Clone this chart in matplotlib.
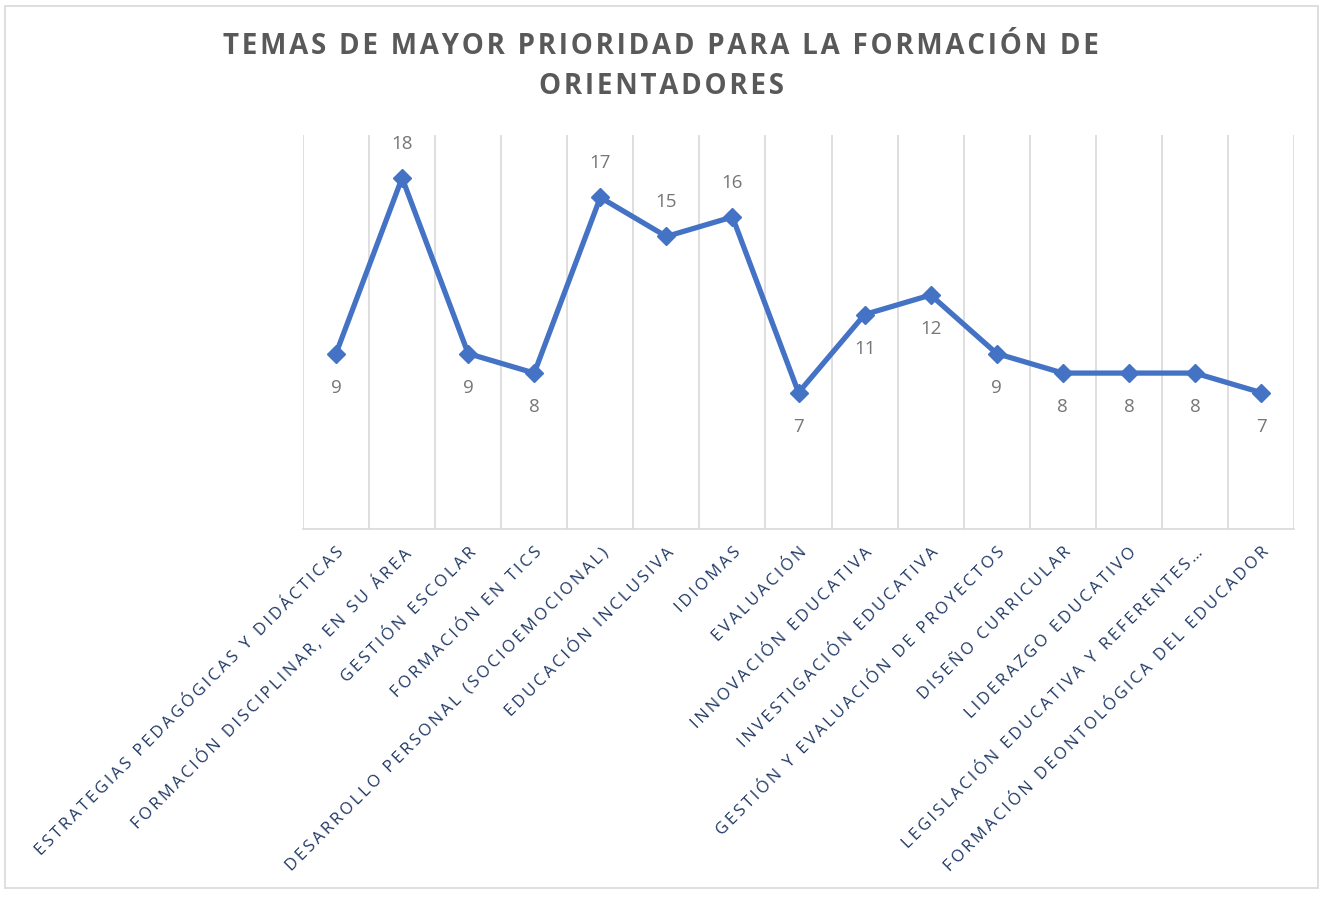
import matplotlib
matplotlib.use("Agg")
import matplotlib.pyplot as plt
from matplotlib.patches import Rectangle

categories = [
    "ESTRATEGIAS PEDAGÓGICAS Y DIDÁCTICAS",
    "FORMACIÓN DISCIPLINAR, EN SU ÁREA",
    "GESTIÓN ESCOLAR",
    "FORMACIÓN EN TICS",
    "DESARROLLO PERSONAL (SOCIOEMOCIONAL)",
    "EDUCACIÓN INCLUSIVA",
    "IDIOMAS",
    "EVALUACIÓN",
    "INNOVACIÓN EDUCATIVA",
    "INVESTIGACIÓN EDUCATIVA",
    "GESTIÓN Y EVALUACIÓN DE PROYECTOS",
    "DISEÑO CURRICULAR",
    "LIDERAZGO EDUCATIVO",
    "LEGISLACIÓN EDUCATIVA Y REFERENTES…",
    "FORMACIÓN DEONTOLÓGICA DEL EDUCADOR",
]
values = [9, 18, 9, 8, 17, 15, 16, 7, 11, 12, 9, 8, 8, 8, 7]
label_above = [False, True, False, False, True, True, True, False,
               False, False, False, False, False, False, False]
title_lines = ["TEMAS DE MAYOR PRIORIDAD PARA LA FORMACIÓN DE", "ORIENTADORES"]

FONT = ["Open Sans", "DejaVu Sans"]


def spaced(s, sp="\u2009"):
    return sp.join(list(s))


fig = plt.figure(figsize=(13.3, 9), dpi=100)
fig.patch.set_facecolor("white")
fig.patches.append(Rectangle((0.004, 0.013), 0.987, 0.98, transform=fig.transFigure,
                             fill=False, edgecolor="#d9d9d9", linewidth=1.2))

ax = fig.add_axes([0.2278, 0.412, 0.7452, 0.438])
x = list(range(len(categories)))
ax.plot(x, values, color="#4472C4", linewidth=3.8, marker="D", markersize=9.5,
        markerfacecolor="#4472C4", markeredgecolor="#4472C4", zorder=3)

ax.set_xlim(-0.5, len(categories) - 0.5)
ax.set_ylim(0, 20.2)
ax.set_yticks([])

# vertical gridlines at category boundaries
for b in [i - 0.5 for i in range(len(categories) + 1)]:
    ax.axvline(b, color="#d9d9d9", linewidth=1.2, zorder=1)

for s in ["top", "right", "left"]:
    ax.spines[s].set_visible(False)
ax.spines["bottom"].set_color("#d9d9d9")
ax.spines["bottom"].set_linewidth(1.2)

for xi, v, up in zip(x, values, label_above):
    if up:
        ax.annotate(str(v), (xi, v), xytext=(0, 18), textcoords="offset points",
                    ha="center", va="bottom", fontsize=13.5, color="#767676", family=FONT)
    else:
        ax.annotate(str(v), (xi, v), xytext=(0, -18), textcoords="offset points",
                    ha="center", va="top", fontsize=13.5, color="#767676", family=FONT)

ax.set_xticks(x)
ax.set_xticklabels([spaced(c) for c in categories], rotation=45, ha="right",
                   rotation_mode="anchor", fontsize=12, color="#1F3864", family=FONT)
ax.tick_params(axis="x", length=0, pad=11)

fig.text(0.497, 1 - 46 / 900, spaced(title_lines[0], "\u200a"), ha="center", va="center",
         fontsize=20, fontweight="bold", color="#595959", family=FONT)
fig.text(0.497, 1 - 87 / 900, spaced(title_lines[1], "\u200a"), ha="center", va="center",
         fontsize=20, fontweight="bold", color="#595959", family=FONT)

fig.savefig("out.png", dpi=100, facecolor="white")
